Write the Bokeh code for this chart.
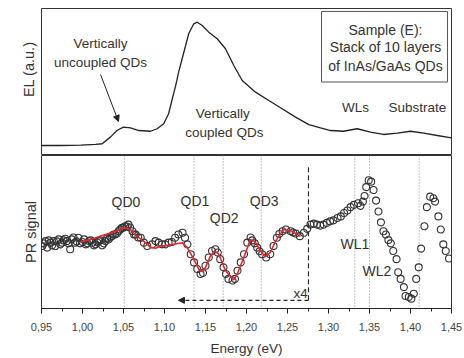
from bokeh.plotting import figure
from bokeh.layouts import column
from bokeh.models import (Range1d, FixedTicker, CustomJSTickFormatter, Label, Arrow,
                          NormalHead, Span, BoxAnnotation, Title)
from bokeh.embed import file_html
from bokeh.resources import INLINE

FONT = "Liberation Sans"
TXT = "#333333"

# ---------------- data ----------------
el_energy = [0.950, 0.973, 0.998, 1.016, 1.024, 1.034, 1.042, 1.050, 1.0585, 1.0687,
             1.083, 1.091, 1.099, 1.105, 1.109, 1.1134, 1.1174, 1.1216, 1.1296, 1.1357,
             1.1399, 1.146, 1.154, 1.1643, 1.1744, 1.1845, 1.1948, 1.211, 1.2272, 1.2435,
             1.2598, 1.276, 1.2902, 1.3024, 1.3183, 1.335, 1.3512, 1.3671, 1.3838, 1.400,
             1.4159, 1.4326, 1.4463, 1.450]
el_signal = [0.068, 0.068, 0.070, 0.075, 0.080, 0.125, 0.170, 0.193, 0.188, 0.170,
             0.165, 0.182, 0.216, 0.284, 0.374, 0.470, 0.570, 0.660, 0.830, 0.896,
             0.907, 0.884, 0.839, 0.794, 0.726, 0.612, 0.510, 0.431, 0.374, 0.318,
             0.261, 0.210, 0.188, 0.170, 0.165, 0.182, 0.159, 0.143, 0.152, 0.165,
             0.152, 0.136, 0.124, 0.120]

pr_energy = [0.951, 0.953, 0.955, 0.957, 0.959, 0.961, 0.963, 0.965, 0.967, 0.969,
             0.971, 0.973, 0.975, 0.977, 0.979, 0.981, 0.983, 0.985, 0.987, 0.989,
             0.991, 0.993, 0.995, 0.997, 1.000, 1.002, 1.004, 1.006, 1.008, 1.010,
             1.012, 1.014, 1.016, 1.018, 1.020, 1.022, 1.024, 1.026, 1.028, 1.030,
             1.032, 1.034, 1.036, 1.038, 1.040, 1.042, 1.044, 1.046, 1.048, 1.050,
             1.052, 1.054, 1.056, 1.058, 1.061, 1.063, 1.065, 1.068, 1.071,
             1.075, 1.079, 1.085, 1.089, 1.093, 1.097, 1.101, 1.105, 1.109, 1.113,
             1.117, 1.122, 1.125, 1.128, 1.132, 1.136, 1.140, 1.144, 1.147, 1.150,
             1.154, 1.158, 1.162, 1.165, 1.168, 1.172, 1.175, 1.178, 1.183, 1.186,
             1.189, 1.193, 1.197, 1.201, 1.205, 1.207, 1.210, 1.213, 1.216, 1.219,
             1.224, 1.229, 1.233, 1.237, 1.240, 1.244, 1.248, 1.254, 1.257, 1.260,
             1.265, 1.270, 1.274, 1.278, 1.282, 1.286, 1.290, 1.294, 1.298, 1.302,
             1.306, 1.311, 1.315, 1.319, 1.323, 1.327, 1.331, 1.336, 1.339, 1.342,
             1.344, 1.346, 1.349, 1.352, 1.355, 1.358, 1.361, 1.364, 1.367, 1.370,
             1.373, 1.376, 1.379, 1.383, 1.385, 1.388, 1.392, 1.394, 1.398, 1.401,
             1.404, 1.407, 1.410, 1.413, 1.417, 1.420, 1.424, 1.428, 1.430, 1.434,
             1.437, 1.440, 1.443, 1.447]
pr_signal = [0.33, 0.60, 0.83, 0.17, 0.90, 0.67, 0.40, 0.83, 0.33, 0.80,
             1.00, 0.50, 0.67, 0.90, 1.07, 0.83, 0.60, 0.00, 1.00, 1.20,
             0.67, 0.80, 1.17, 0.60, 0.73, 1.00, 0.50, 0.60, 0.83, 0.90,
             0.67, 0.40, 0.50, 0.70, 0.83, 0.90, 0.40, 0.60, 0.83, 1.10,
             1.00, 1.20, 1.33, 1.50, 1.50, 1.60, 1.83, 2.00, 2.17, 2.20,
             2.33, 2.30, 2.50, 2.20, 1.83, 1.50, 1.50, 1.20, 1.17,
             0.67, 0.33, 0.50, 0.83, 0.67, 0.50, 0.50, 0.67, 0.73, 1.17,
             1.50, 1.67, 1.17, 0.50, -0.50, -1.33, -2.00, -2.50, -2.40, -1.67,
             -0.83, -0.17, 0.00, -0.33, -1.00, -1.83, -2.50, -3.00, -3.17, -3.00,
             -2.17, -1.33, -0.50, 0.67, 1.20, 0.90, 0.60, 0.17, -0.20, -0.50,
             -0.83, -0.50, 0.33, 1.17, 1.55, 1.83, 2.00, 1.83, 1.70, 1.60,
             1.33, 1.67, 2.07, 2.50, 2.60, 2.50, 2.40, 2.50, 2.67, 2.83,
             2.93, 3.17, 3.33, 3.67, 3.93, 4.27, 4.50, 4.67, 4.40, 4.83,
             5.40, 6.30, 7.00, 6.85, 6.00, 4.93, 3.83, 2.73, 1.83, 1.50,
             0.93, 0.60, -0.17, -1.00, -2.33, -3.00, -3.83, -4.73, -4.83, -5.00,
             -4.50, -3.00, -1.83, 0.07, 2.33, 4.27, 5.33, 5.17, 4.83, 3.33,
             2.00, 0.50, -0.17, -0.93]

fit_energy = [0.998, 1.010, 1.024, 1.036, 1.044, 1.052, 1.0585, 1.0687, 1.0768, 1.083,
              1.089, 1.095, 1.111, 1.1216, 1.1277, 1.1357, 1.1418, 1.146, 1.150, 1.1561,
              1.161, 1.1662, 1.1744, 1.1826, 1.1845, 1.1887, 1.1967, 1.2049, 1.211, 1.2171,
              1.2232, 1.2293, 1.2354, 1.2451, 1.2557, 1.2659]
fit_signal = [0.75, 1.00, 1.40, 1.70, 1.93, 2.17, 2.00, 1.17, 0.67, 0.20,
              0.10, 0.30, 0.50, 0.67, 0.17, -1.00, -2.00, -2.27, -1.83, -0.67,
              -0.17, -0.50, -2.17, -2.93, -3.10, -2.50, -0.83, 1.00, 0.70, -0.20,
              -0.75, -0.30, 0.83, 2.00, 1.83, 1.30]

transition_energy = [1.051, 1.136, 1.1716, 1.218, 1.332, 1.350, 1.4106]
transition_labels = ["QD0", "QD1", "QD2", "QD3", "WL1", "WL2"]

x_ticks = [0.95, 1.00, 1.05, 1.10, 1.15, 1.20, 1.25, 1.30, 1.35, 1.40, 1.45]
x_minor = [0.975, 1.025, 1.075, 1.125, 1.175, 1.225, 1.275, 1.325, 1.375, 1.425]
x_tick_labels = ["0,95", "1,00", "1,05", "1,10", "1,15", "1,20", "1,25", "1,30",
                 "1,35", "1,40", "1,45"]

# ---------------- top panel (EL) ----------------
xr = Range1d(0.95, 1.45)
p1 = figure(width=464, height=155, x_range=xr, y_range=Range1d(0, 1),
            x_axis_location=None, y_axis_location=None,
            output_backend="svg", toolbar_location=None,
            min_border_left=41, min_border_right=13, min_border_top=8, min_border_bottom=0)
p1.grid.visible = False
p1.outline_line_color = "#333333"
p1.outline_line_width = 1
p1.background_fill_color = "white"
p1.border_fill_color = "white"

p1.line(el_energy, el_signal, line_color="#222222", line_width=1.3)

def lab(p, x, y, t, size="13.5px", align="center"):
    p.add_layout(Label(x=x, y=y, text=t, text_align=align, text_baseline="middle",
                       text_font_size=size, text_color=TXT, text_font=FONT))

lab(p1, 1.022, 0.762, "Vertically")
lab(p1, 1.022, 0.633, "uncoupled QDs")
lab(p1, 1.171, 0.286, "Vertically")
lab(p1, 1.173, 0.156, "coupled QDs")
lab(p1, 1.333, 0.327, "WLs")
lab(p1, 1.4085, 0.327, "Substrate")

p1.add_layout(Arrow(end=NormalHead(size=6, fill_color="#222222", line_color="#222222"),
                    x_start=1.022, y_start=0.551, x_end=1.0439, y_end=0.231,
                    line_color="#222222", line_width=1))

p1.add_layout(BoxAnnotation(left=1.2915, right=1.4451, top=0.98, bottom=0.50,
                            fill_color="white", fill_alpha=1.0,
                            line_color="#555555", line_width=1, line_alpha=1.0))
lab(p1, 1.3695, 0.857, "Sample (E):", size="14px")
lab(p1, 1.3695, 0.735, "Stack of 10 layers", size="14px")
lab(p1, 1.3695, 0.612, "of InAs/GaAs QDs", size="14px")

p1.add_layout(Title(text="EL (a.u.)", align="right", offset=33, standoff=9,
                    text_font=FONT, text_font_size="14.5px", text_font_style="normal",
                    text_color=TXT), "left")

# ---------------- bottom panel (PR) ----------------
p2 = figure(width=464, height=203, x_range=xr, y_range=Range1d(-6.0, 9.5),
            y_axis_location=None, output_backend="svg", toolbar_location=None,
            min_border_left=41, min_border_right=13, min_border_top=0, min_border_bottom=48)
p2.grid.visible = False
p2.outline_line_color = "#333333"
p2.outline_line_width = 1
p2.background_fill_color = "white"
p2.border_fill_color = "white"

ax = p2.xaxis[0]
ax.ticker = FixedTicker(ticks=x_ticks, minor_ticks=x_minor)
ax.formatter = CustomJSTickFormatter(args=dict(tvals=x_ticks, tlabels=x_tick_labels), code="""
    const i = tvals.findIndex(t => Math.abs(t - tick) < 1e-6);
    return i >= 0 ? tlabels[i] : '';
""")
ax.major_tick_out = 5
ax.major_tick_in = 0
ax.minor_tick_out = 3
ax.minor_tick_in = 0
ax.axis_line_color = "#222222"
ax.major_tick_line_color = "#222222"
ax.minor_tick_line_color = "#222222"
ax.major_label_text_font = FONT
ax.major_label_text_font_size = "11px"
ax.major_label_text_color = "#444444"
ax.major_label_standoff = 9
ax.axis_label = "Energy (eV)"
ax.axis_label_text_font = FONT
ax.axis_label_text_font_size = "13.5px"
ax.axis_label_text_font_style = "normal"
ax.axis_label_text_color = TXT
ax.axis_label_standoff = 7

for e in transition_energy:
    p2.add_layout(Span(location=e, dimension="height", line_color="#888888",
                       line_dash="1 2", line_width=1, level="underlay"))

p2.segment(x0=[1.2756], y0=[8.3], x1=[1.2756], y1=[-5.17],
           line_color="#222222", line_dash="5 3", line_width=1.1)
p2.add_layout(Arrow(end=NormalHead(size=6, fill_color="#222222", line_color="#222222"),
                    x_start=1.2756, y_start=-5.17, x_end=1.117, y_end=-5.17,
                    line_color="#222222", line_dash="4 3", line_width=1.2))
lab(p2, 1.2659, -4.5, "x4", size="13.5px")

p2.scatter(pr_energy, pr_signal, size=7, fill_color=None, line_color="#333333",
           line_width=1.1)
p2.line(fit_energy, fit_signal, line_color="#e8262a", line_width=1.6)

label_pos = [(1.053, 4.8), (1.1372, 4.93), (1.1728, 3.17), (1.2216, 4.93),
             (1.3323, 0.5), (1.3591, -2.2)]
for t, (x, y) in zip(transition_labels, label_pos):
    lab(p2, x, y, t, size="14px")

p2.add_layout(Title(text="PR signal", align="center", standoff=6,
                    text_font=FONT, text_font_size="14.5px", text_font_style="normal",
                    text_color=TXT), "left")

layout = column(p1, p2, spacing=0)
open("out.html", "w").write(file_html(layout, INLINE))
